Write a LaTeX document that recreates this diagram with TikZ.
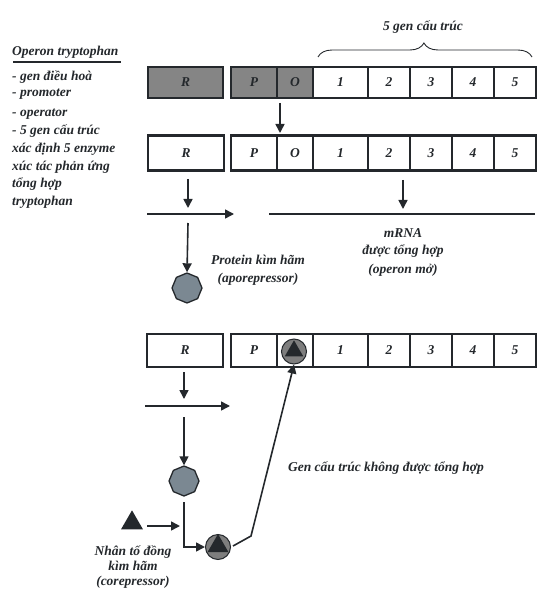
\documentclass[tikz,border=0pt]{standalone}
\usepackage{fontspec}
\setmainfont{Liberation Serif}
\usetikzlibrary{arrows.meta,shapes.geometric,decorations.pathreplacing}
\definecolor{ink}{HTML}{24282C}
\definecolor{boxgray}{HTML}{858585}
\definecolor{octgray}{HTML}{7B8892}
\definecolor{cplxgray}{HTML}{7E7E7E}
\begin{document}
\begin{tikzpicture}[x=1pt,y=-1pt,
  txt/.style={font=\fontsize{13.5}{15}\selectfont\bfseries\itshape, inner sep=0pt, text=ink},
  gbox/.style={draw=ink, line width=2.8pt, inner sep=0pt, txt},
  shaded/.style={gbox, fill=boxgray},
  arr/.style={draw=ink, line width=1.6pt, -{Triangle[length=9pt,width=9pt]}},
  plain/.style={draw=ink, line width=1.6pt},
  oct/.style={regular polygon, regular polygon sides=8, shape border rotate=22.5, draw=ink, line width=1.3pt, fill=octgray, minimum size=30pt, inner sep=0pt},
  cplx/.style={circle, draw=ink, line width=1pt, fill=cplxgray, minimum size=25pt, inner sep=0pt},
  tri/.style={isosceles triangle, isosceles triangle apex angle=60, shape border rotate=90, fill=ink, inner sep=0pt, minimum height=#1},
]
\useasboundingbox (0,0) rectangle (551,612);

% ---------- left legend ----------
\node[txt, anchor=west] (title) at (12,52) {Operon tryptophan};
\coordinate (ulL) at (13,62);
\coordinate (ulR) at (121,62);
\draw[ink, line width=1.4pt] (ulL) -- (ulR);
\node[txt, anchor=west] (l1) at (12,77) {- gen điều hoà};
\node[txt, anchor=west] (l2) at (12,94) {- promoter};
\node[txt, anchor=west] (l3) at (12,114) {- operator};
\node[txt, anchor=west] (l4) at (12,131) {- 5 gen cấu trúc};
\node[txt, anchor=west] (l5) at (12,149) {xác định 5 enzyme};
\node[txt, anchor=west] (l6) at (12,167) {xúc tác phản ứng};
\node[txt, anchor=west] (l7) at (12,184) {tổng hợp};
\node[txt, anchor=west] (l8) at (12,202) {tryptophan};

% ---------- row 1 ----------
\node[shaded, minimum width=75, minimum height=31] (aR) at (185.5,82.5) {R};
\node[shaded, minimum width=46, minimum height=31] (aP) at (254,82.5) {P};
\node[shaded, minimum width=36, minimum height=31] (aO) at (295,82.5) {O};
\node[gbox, minimum width=55, minimum height=31] (a1) at (340.5,82.5) {1};
\node[gbox, minimum width=42, minimum height=31] (a2) at (389,82.5) {2};
\node[gbox, minimum width=42, minimum height=31] (a3) at (431,82.5) {3};
\node[gbox, minimum width=42, minimum height=31] (a4) at (473,82.5) {4};
\node[gbox, minimum width=42, minimum height=31] (a5) at (515,82.5) {5};

\coordinate (brL) at (318,57);
\coordinate (brR) at (532,57);
\draw[ink, line width=0.9pt, decorate, decoration={brace, amplitude=14pt, aspect=0.495}] (brL) -- (brR);
\node[txt] (brlab) at (423,27) {5 gen cấu trúc};

% ---------- row 2 ----------
\node[gbox, minimum width=76, minimum height=35] (bR) at (186,153) {R};
\node[gbox, minimum width=46, minimum height=35] (bP) at (254,153) {P};
\node[gbox, minimum width=36, minimum height=35] (bO) at (295,153) {O};
\node[gbox, minimum width=55, minimum height=35] (b1) at (340.5,153) {1};
\node[gbox, minimum width=42, minimum height=35] (b2) at (389,153) {2};
\node[gbox, minimum width=42, minimum height=35] (b3) at (431,153) {3};
\node[gbox, minimum width=42, minimum height=35] (b4) at (473,153) {4};
\node[gbox, minimum width=42, minimum height=35] (b5) at (515,153) {5};

\coordinate (inS) at (280,103);
\coordinate (inE) at (280,133);
\draw[arr] (inS) -- (inE);

% transcription of R
\coordinate (rs) at (188,179);
\coordinate (re) at (188,208);
\draw[arr] (rs) -- (re);
\coordinate (h1s) at (147,214);
\coordinate (h1e) at (234,214);
\draw[arr] (h1s) -- (h1e);
\coordinate (ps) at (188,223);
\node[oct] (rep1) at (187,288) {};
\draw[arr] (ps) -- (rep1.north);
\node[txt] (prot1) at (258,260) {Protein kìm hãm};
\node[txt] (prot2) at (258,279) {(aporepressor)};

% mRNA
\coordinate (ms) at (403,180);
\coordinate (me) at (403,209);
\draw[arr] (ms) -- (me);
\coordinate (ml) at (269,214);
\coordinate (mr) at (535,214);
\draw[plain] (ml) -- (mr);
\node[txt] (m1) at (403,233) {mRNA};
\node[txt] (m2) at (403,251) {được tổng hợp};
\node[txt] (m3) at (403,270) {(operon mở)};

% ---------- row 3 ----------
\node[gbox, minimum width=76, minimum height=33] (cR) at (185,350.5) {R};
\node[gbox, minimum width=46, minimum height=33] (cP) at (254,350.5) {P};
\node[gbox, minimum width=36, minimum height=33] (cO) at (295,350.5) {};
\node[gbox, minimum width=55, minimum height=33] (c1) at (340.5,350.5) {1};
\node[gbox, minimum width=42, minimum height=33] (c2) at (389,350.5) {2};
\node[gbox, minimum width=42, minimum height=33] (c3) at (431,350.5) {3};
\node[gbox, minimum width=42, minimum height=33] (c4) at (473,350.5) {4};
\node[gbox, minimum width=42, minimum height=33] (c5) at (515,350.5) {5};
\node[cplx] (bound) at (294,351.5) {};
\node[tri=16pt] (boundtri) at (294,351) {};

\coordinate (r3s) at (184,372);
\coordinate (r3e) at (184,399);
\draw[arr] (r3s) -- (r3e);
\coordinate (h3s) at (145,406);
\coordinate (h3e) at (230,406);
\draw[arr] (h3s) -- (h3e);
\coordinate (p3s) at (184,417);
\node[oct] (rep2) at (184,481) {};
\draw[arr] (p3s) -- (rep2.north);

% corepressor
\node[tri=19pt] (corep) at (132,523) {};
\coordinate (cas) at (147,526);
\coordinate (cae) at (180,526);
\draw[arr] (cas) -- (cae);
\node[txt, align=center] (corelab) at (133,567) {Nhân tố đồng\\[0pt]kìm hãm\\[0pt](corepressor)};

% active complex
\node[cplx] (cplx) at (218,547) {};
\node[tri=18pt] (cplxtri) at (218,546) {};
\coordinate (rep2b) at (184,502);
\draw[arr] (rep2b) |- (cplx.west);
\coordinate (bend) at (251,536);
\draw[arr] (cplx.east) ++(2,-1) -- (bend) -- (bound.south);
\node[txt] (notsyn) at (386,468) {Gen cấu trúc không được tổng hợp};

\end{tikzpicture}
\end{document}
